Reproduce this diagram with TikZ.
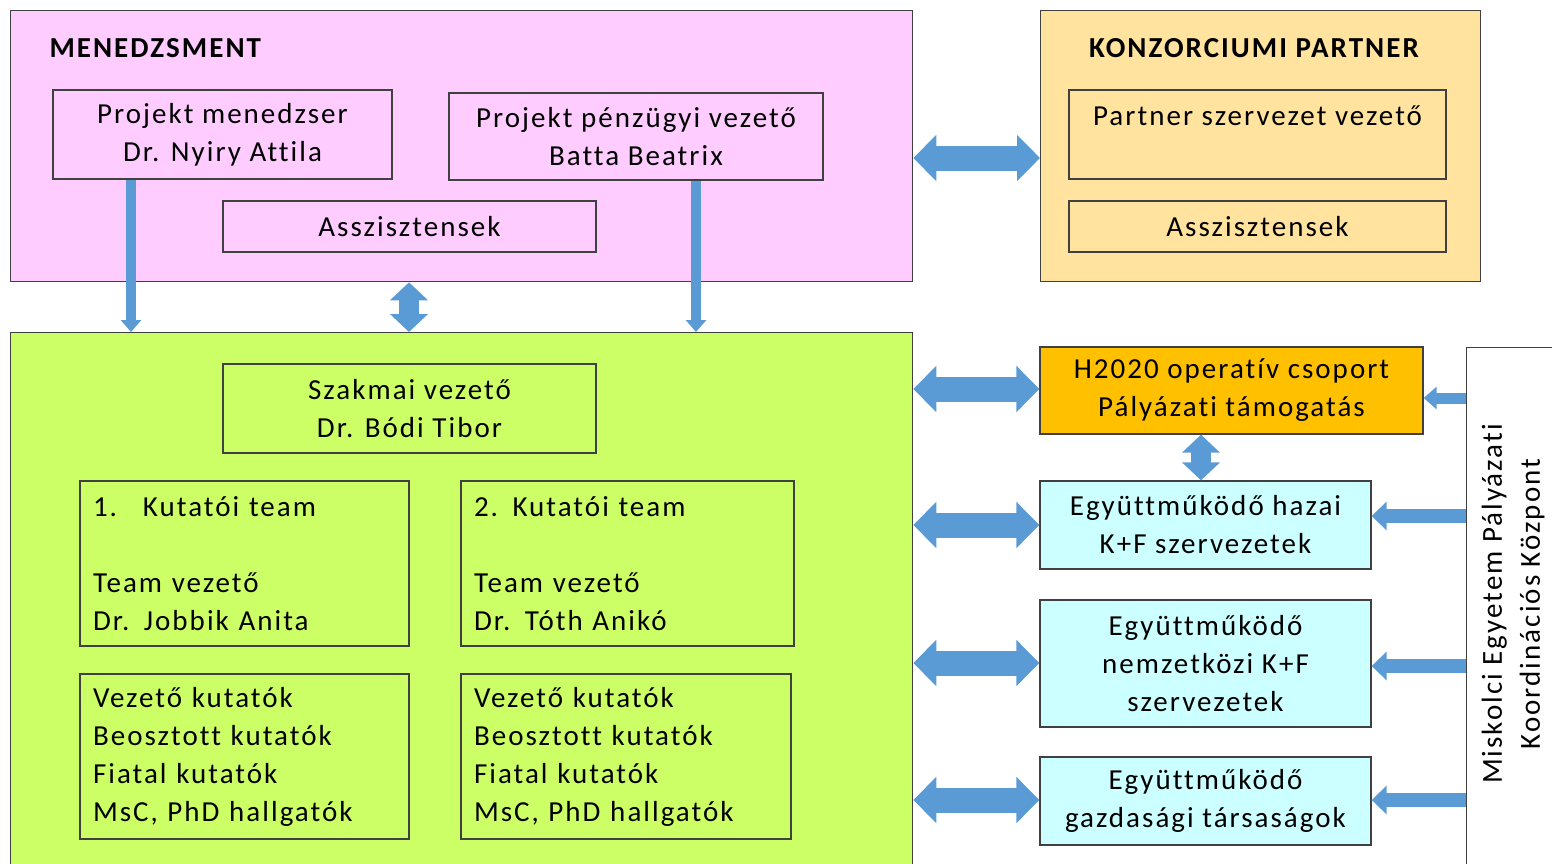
\documentclass[tikz,border=0pt]{standalone}
\usepackage{fontspec}
\setmainfont{Carlito}[LetterSpace=7,Ligatures=NoCommon]
\usetikzlibrary{arrows.meta}
\definecolor{pinkf}{HTML}{FFCCFF}
\definecolor{tanf}{HTML}{FFE39F}
\definecolor{greenf}{HTML}{CCFF66}
\definecolor{orangef}{HTML}{FFC000}
\definecolor{cyanf}{HTML}{CCFFFF}
\definecolor{arrowc}{HTML}{5B9BD5}
\definecolor{linec}{HTML}{404040}
\begin{document}
\begin{tikzpicture}[x=1pt,y=-1pt,
  every node/.style={font=\fontsize{29}{38}\selectfont},
  frame/.style={draw=linec, line width=1.3pt, anchor=north west, inner sep=0pt},
  tbox/.style={draw=linec, line width=1.3pt, inner sep=0pt, align=center},
  lbox/.style={draw=linec, line width=1.3pt, inner ysep=0pt, inner xsep=13pt, align=left},
  title/.style={font=\fontsize{29}{38}\selectfont\bfseries},
  harrow/.style={draw=arrowc, line width=25pt, {Triangle[width=45pt,length=23pt]}-{Triangle[width=45pt,length=23pt]}},
  vdarrow/.style={draw=arrowc, line width=20pt, {Triangle[width=37pt,length=18pt]}-{Triangle[width=37pt,length=18pt]}},
  downarrow/.style={draw=arrowc, line width=10pt, -{Triangle[width=20pt,length=12pt]}},
  larrow/.style={draw=arrowc, line width=14pt, -{Triangle[width=28pt,length=15pt]}},
  sarrow/.style={draw=arrowc, line width=11pt, -{Triangle[width=22pt,length=13pt]}}
]
\useasboundingbox (0,0) rectangle (1552,863);

% MENEDZSMENT
\node[frame, fill=pinkf, minimum width=902pt, minimum height=271pt] (men) at (10,10) {};
\node[title, anchor=west] (mentitle) at (46,48) {MENEDZSMENT};
\node[tbox, minimum width=339pt, minimum height=89pt] (pm) at (222.5,134.5) {Projekt menedzser\\Dr. Nyiry Attila};
\node[tbox, minimum width=374pt, minimum height=87pt] (pf) at (636,136.5) {Projekt pénzügyi vezető\\Batta Beatrix};
\node[tbox, minimum width=373pt, minimum height=51pt] (as1) at (409.5,226.5) {Asszisztensek};

% KONZORCIUMI PARTNER
\node[frame, fill=tanf, minimum width=440pt, minimum height=271pt] (konz) at (1040,10) {};
\node[title] (konztitle) at (1254,48) {KONZORCIUMI PARTNER};
\node[tbox, minimum width=377pt, minimum height=89pt] (psv) at (1257.5,134.5) {Partner szervezet vezető\\\mbox{}};
\node[tbox, minimum width=377pt, minimum height=51pt] (as2) at (1257.5,226.5) {Asszisztensek};

% Green block
\node[frame, fill=greenf, minimum width=902pt, minimum height=540pt] (green) at (10,332) {};
\node[tbox, minimum width=373pt, minimum height=89pt] (szv) at (409.5,408.5) {Szakmai vezető\\Dr. Bódi Tibor};
\node[lbox, text width=303pt, minimum height=165pt] (k1) at (244.5,563.5)
  {\makebox[50pt][l]{1.}Kutatói team\\\mbox{}\\Team vezető\\Dr. Jobbik Anita};
\node[lbox, text width=307pt, minimum height=165pt] (k2) at (627.5,563.5)
  {2. Kutatói team\\\mbox{}\\Team vezető\\Dr. Tóth Anikó};
\node[lbox, text width=303pt, minimum height=165pt] (l1) at (244.5,756.5)
  {Vezető kutatók\\Beosztott kutatók\\Fiatal kutatók\\MsC, PhD hallgatók};
\node[lbox, text width=304pt, minimum height=165pt] (l2) at (626,756.5)
  {Vezető kutatók\\Beosztott kutatók\\Fiatal kutatók\\MsC, PhD hallgatók};

% Right column
\node[tbox, fill=orangef, minimum width=383pt, minimum height=87pt] (h2020) at (1231.5,390.5) {H2020 operatív csoport\\Pályázati támogatás};
\node[tbox, fill=cyanf, minimum width=331pt, minimum height=88pt] (hazai) at (1205.5,525) {Együttműködő hazai\\K+F szervezetek};
\node[tbox, fill=cyanf, minimum width=331pt, minimum height=127pt] (nemz) at (1205.5,663.5) {Együttműködő\\nemzetközi K+F\\szervezetek};
\node[tbox, fill=cyanf, minimum width=331pt, minimum height=88pt] (gazd) at (1205.5,801) {Együttműködő\\gazdasági társaságok};

% Miskolci
\node[frame, fill=white, minimum width=100pt, minimum height=530pt] (misk) at (1466,347) {};
\node[rotate=90, align=center] (misktext) at (1513,604) {Miskolci Egyetem Pályázati\\Koordinációs Központ};

% Arrows
\draw[harrow] (men.east |- 0,158) -- (konz.west |- 0,158);
\draw[harrow] (green.east |- 0,389) -- (h2020.west |- 0,389);
\draw[harrow] (green.east |- 0,525) -- (hazai.west |- 0,525);
\draw[harrow] (green.east |- 0,663) -- (nemz.west |- 0,663);
\draw[harrow] (green.east |- 0,800) -- (gazd.west |- 0,800);
\draw[vdarrow] (men.south -| 409,0) -- (green.north -| 409,0);
\draw[vdarrow] (h2020.south -| 1201,0) -- (hazai.north -| 1201,0);
\draw[downarrow] (pm.south -| 131,0) -- (green.north -| 131,0);
\draw[downarrow] (pf.south -| 696,0) -- (green.north -| 696,0);
\draw[sarrow] (misk.west |- 0,398) -- (h2020.east |- 0,398);
\draw[larrow] (misk.west |- 0,516) -- (hazai.east |- 0,516);
\draw[larrow] (misk.west |- 0,666) -- (nemz.east |- 0,666);
\draw[larrow] (misk.west |- 0,800) -- (gazd.east |- 0,800);
\end{tikzpicture}
\end{document}
